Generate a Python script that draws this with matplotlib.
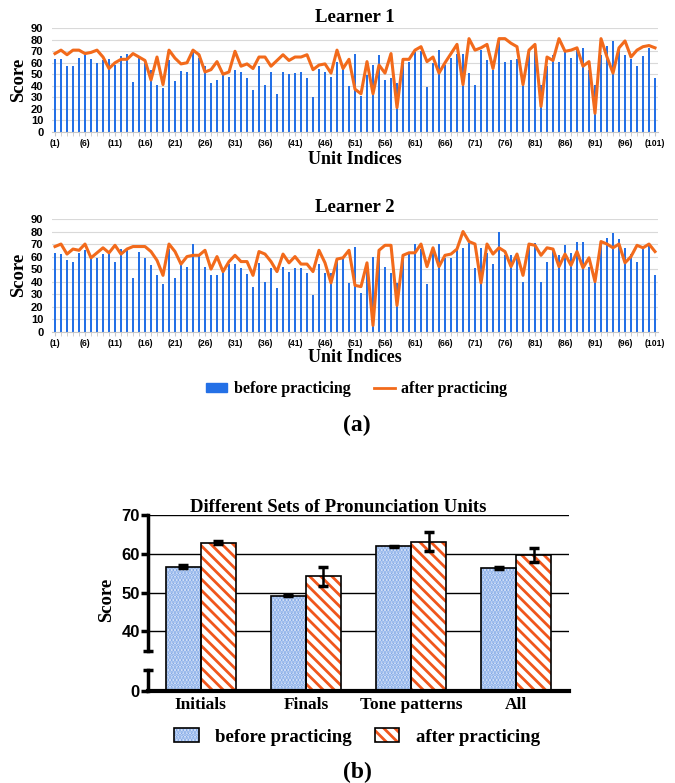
import numpy as np
import matplotlib
matplotlib.use('Agg')
import matplotlib.pyplot as plt
from matplotlib.patches import Patch
from matplotlib.lines import Line2D

# ---- data: per-unit scores ----
units = np.arange(1, 102)
tick_units = list(range(1, 102, 5))
tick_labels = ['(%d)' % u for u in tick_units]

learner1_before = [63, 63, 57, 57, 64, 67, 63, 60, 62, 63,
                   58, 66, 68, 43, 64, 60, 54, 41, 38, 62,
                   44, 53, 52, 70, 64, 57, 42, 45, 49, 48,
                   54, 52, 47, 36, 57, 41, 52, 33, 52, 50,
                   51, 52, 47, 30, 55, 52, 48, 61, 55, 40,
                   68, 31, 49, 58, 67, 45, 47, 42, 61, 61,
                   69, 70, 39, 60, 71, 58, 64, 68, 68, 51,
                   41, 71, 62, 54, 81, 61, 62, 63, 41, 70,
                   73, 41, 57, 67, 61, 69, 64, 72, 73, 54,
                   41, 67, 75, 79, 73, 67, 63, 57, 66, 73, 47]
learner1_after = [68, 71, 67, 71, 71, 68, 69, 71, 65, 55,
                  60, 63, 63, 68, 65, 62, 45, 65, 41, 71,
                  64, 59, 60, 71, 67, 52, 54, 61, 50, 52,
                  70, 57, 59, 55, 65, 65, 57, 62, 67, 62,
                  65, 65, 67, 54, 58, 59, 51, 71, 55, 63,
                  37, 33, 61, 33, 58, 51, 68, 21, 63, 63,
                  71, 74, 61, 65, 51, 60, 68, 76, 41, 81,
                  71, 73, 76, 55, 81, 81, 77, 74, 41, 71,
                  76, 22, 65, 62, 81, 70, 71, 73, 57, 61,
                  16, 81, 65, 51, 73, 79, 65, 71, 74, 75, 73]
learner2_before = [63, 62, 57, 56, 63, 65, 59, 59, 62, 62,
                   56, 66, 67, 43, 64, 59, 53, 45, 38, 66,
                   43, 53, 52, 70, 62, 52, 45, 45, 48, 54,
                   54, 51, 46, 36, 55, 40, 51, 35, 52, 48,
                   51, 51, 47, 29, 54, 47, 47, 59, 59, 39,
                   68, 31, 49, 60, 66, 52, 47, 39, 61, 62,
                   70, 66, 38, 64, 70, 59, 59, 66, 67, 71,
                   51, 67, 63, 54, 80, 61, 61, 61, 40, 70,
                   71, 40, 56, 67, 61, 69, 63, 72, 72, 52,
                   40, 71, 75, 79, 74, 67, 62, 56, 66, 70, 45]
learner2_after = [68, 70, 62, 66, 65, 70, 59, 63, 67, 63,
                  69, 62, 66, 68, 68, 68, 64, 57, 45, 70,
                  64, 54, 60, 61, 61, 65, 50, 60, 48, 56,
                  61, 56, 56, 45, 64, 62, 56, 48, 62, 55,
                  60, 54, 54, 48, 65, 55, 39, 58, 59, 65,
                  37, 36, 55, 5, 65, 69, 69, 21, 61, 63,
                  63, 70, 52, 67, 52, 61, 62, 66, 80, 72,
                  70, 39, 70, 62, 67, 64, 52, 62, 45, 70,
                  69, 61, 67, 66, 52, 62, 53, 64, 51, 59,
                  40, 72, 70, 67, 70, 55, 60, 69, 67, 70, 64]

# ---- data: averages per set of units ----
sets = ['Initials', 'Finals', 'Tone patterns', 'All']
avg_before = [56.7, 49.2, 61.9, 56.3]
err_before = [0.3, 0.2, 0.2, 0.2]
avg_after = [62.8, 54.2, 63.1, 59.8]
err_after = [0.4, 2.5, 2.4, 1.8]

plt.rcParams['hatch.linewidth'] = 2.0

W, H = 675, 783
fig = plt.figure(figsize=(W / 100, H / 100), dpi=100)

SERIF = 'Liberation Serif'
SANS = 'Liberation Sans'
BLUE = '#2470e6'
ORANGE = '#f26a1b'


def fy(py):
    return 1 - py / H


def learner_panel(top, bottom, before, after, title, title_y, xlab_y):
    left, right = 51.7, 658
    ax = fig.add_axes([left / W, fy(bottom), (right - left) / W, (bottom - top) / H])
    ax.bar(units, before, width=0.45, color=BLUE, zorder=2)
    ax.plot(units, after, color=ORANGE, lw=2.2, zorder=3)
    ax.set_xlim(0.45, 101.5)
    ax.set_ylim(0, 90)
    ax.set_yticks(range(0, 91, 10))
    ax.yaxis.grid(True, color='#d9d9d9', lw=0.8)
    ax.set_axisbelow(True)
    for s in ['top', 'right', 'left']:
        ax.spines[s].set_visible(False)
    ax.spines['bottom'].set_color('#c8c8c8')
    ax.set_xticks(tick_units)
    ax.set_xticklabels(tick_labels, fontsize=6.2, fontweight='bold', family=SANS)
    ax.set_xticks(units, minor=True)
    ax.tick_params(axis='x', which='both', length=3, color='#c8c8c8', pad=2)
    ax.tick_params(axis='y', length=0, pad=6, labelsize=8)
    for t in ax.get_yticklabels():
        t.set_fontweight('bold')
        t.set_family(SANS)
    ax.set_ylabel('Score', family=SERIF, fontweight='bold', fontsize=13.5)
    ax.yaxis.set_label_coords(-0.041, 0.5)
    fig.text(355 / W, fy(title_y), title, ha='center', va='center',
             family=SERIF, fontweight='bold', fontsize=13.5)
    fig.text(355 / W, fy(xlab_y), 'Unit Indices', ha='center', va='center',
             family=SERIF, fontweight='bold', fontsize=13)
    return ax


learner_panel(28.3, 131.7, learner1_before, learner1_after, 'Learner 1', 18, 160)
learner_panel(219, 331.7, learner2_before, learner2_after, 'Learner 2', 208, 357)

fig.legend(handles=[Patch(color=BLUE, label='before practicing'),
                    Line2D([], [], color=ORANGE, lw=2, label='after practicing')],
           loc='center', bbox_to_anchor=(357 / W, fy(389)), ncol=2, frameon=False,
           prop={'family': SERIF, 'weight': 'bold', 'size': 11.5},
           handlelength=1.3, handleheight=0.5, columnspacing=1.5, handletextpad=0.4)
fig.text(357 / W, fy(425), '(a)', ha='center', va='center',
         family=SERIF, fontweight='bold', fontsize=17)

# ---- (b) bar chart with broken y axis ----
def fwd(v):
    return np.interp(v, [0, 5.4, 35, 100], [0, 5.4, 10.4, 75.4])


def inv(d):
    return np.interp(d, [0, 5.4, 10.4, 75.4], [0, 5.4, 35, 100])


ax3 = fig.add_axes([148 / W, fy(691), (569 - 148) / W, (691 - 515) / H])
ax3.set_yscale('function', functions=(fwd, inv))
ax3.set_ylim(0, 70)
ax3.set_xlim(-0.5, 3.5)

x = np.arange(len(sets))
w = 0.333
BFACE, BHATCH = '#e4edfb', '#7ea6e6'
AHATCH = '#f0561c'
ax3.bar(x - w / 2, avg_before, w, color=BFACE, edgecolor=BHATCH, hatch='.....', lw=0, zorder=2)
ax3.bar(x - w / 2, avg_before, w, fill=False, edgecolor='black', lw=1.2, zorder=3)
ax3.bar(x + w / 2, avg_after, w, color='white', edgecolor=AHATCH, hatch='\\\\\\', lw=0, zorder=2)
ax3.bar(x + w / 2, avg_after, w, fill=False, edgecolor='black', lw=1.2, zorder=3)
ax3.errorbar(x - w / 2, avg_before, yerr=err_before, fmt='none', ecolor='black',
             capsize=3.5, elinewidth=1.8, capthick=2.5, zorder=4)
ax3.errorbar(x + w / 2, avg_after, yerr=err_after, fmt='none', ecolor='black',
             capsize=3.5, elinewidth=1.8, capthick=2.5, zorder=4)

ax3.set_yticks([0, 40, 50, 60, 70])
ax3.set_yticklabels(['0', '40', '50', '60', '70'], family=SANS, fontweight='bold', fontsize=12)
ax3.yaxis.grid(True, color='black', lw=1)
ax3.set_axisbelow(True)
for s in ['top', 'right']:
    ax3.spines[s].set_visible(False)
ax3.spines['left'].set_linewidth(2.5)
ax3.spines['left'].set_bounds(35, 70)
ax3.spines['bottom'].set_linewidth(3)
ax3.tick_params(axis='y', length=5, width=2.5, pad=1)
ax3.plot([-0.5, -0.5], [0, 5.4], color='black', lw=2.5, clip_on=False, zorder=5)
ax3.plot([-0.5, -0.5], [5.4, 35], ls='none', marker='_', ms=7, mew=2.5,
         color='black', clip_on=False, zorder=5)
ax3.set_xticks(x)
ax3.set_xticklabels(sets, family=SERIF, fontweight='bold', fontsize=12.5)
ax3.tick_params(axis='x', length=0, pad=4)
ax3.set_ylabel('Score', family=SERIF, fontweight='bold', fontsize=13.5)
ax3.yaxis.set_label_coords(-0.078, 0.52)

fig.text(338 / W, fy(507), 'Different Sets of Pronunciation Units', ha='center', va='center',
         family=SERIF, fontweight='bold', fontsize=13.5)

h_before = (Patch(facecolor=BFACE, edgecolor=BHATCH, hatch='.....', lw=0),
            Patch(fill=False, edgecolor='black', lw=1.2))
h_after = (Patch(facecolor='white', edgecolor=AHATCH, hatch='\\\\\\', lw=0),
           Patch(fill=False, edgecolor='black', lw=1.2))
fig.legend([h_before, h_after], ['before practicing', 'after practicing'],
           loc='center', bbox_to_anchor=(357 / W, fy(737)), ncol=2, frameon=False,
           prop={'family': SERIF, 'weight': 'bold', 'size': 13.5},
           handlelength=1.3, handleheight=0.75, columnspacing=1.2, handletextpad=0.9)
fig.text(357 / W, fy(772), '(b)', ha='center', va='center',
         family=SERIF, fontweight='bold', fontsize=17)

fig.savefig('out.png', dpi=100)
